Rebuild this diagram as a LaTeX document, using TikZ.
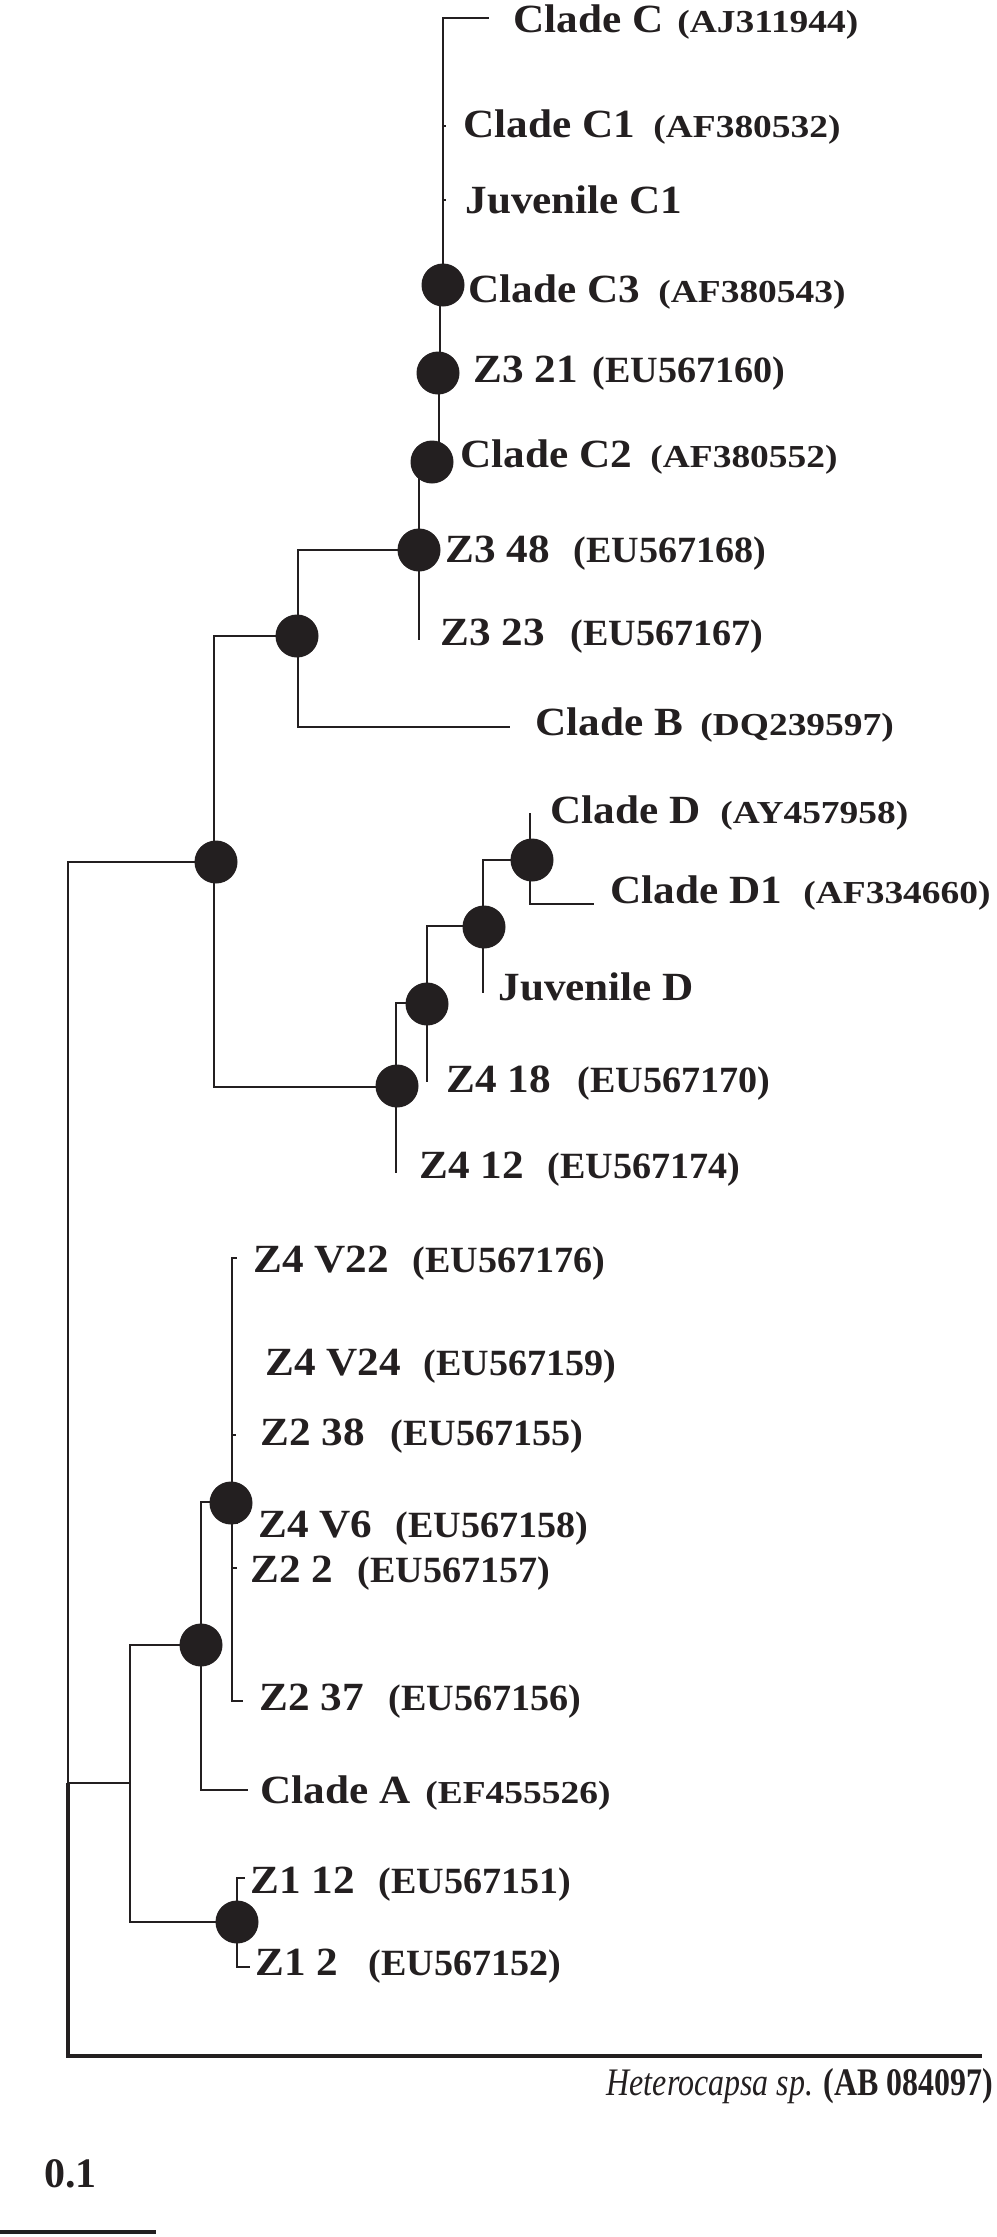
\documentclass[tikz,border=0pt]{standalone}
\usepackage{fontspec}
\setmainfont{Liberation Serif}
\newfontfamily\labfont{Liberation Serif}[FakeStretch=1.08]
\newfontfamily\eufont{Liberation Serif}[FakeStretch=1.03]
\newfontfamily\affont{Liberation Serif}[FakeStretch=1.17]
\newfontfamily\hetfont{Liberation Serif}[FakeStretch=0.82]
\definecolor{ink}{HTML}{231F20}
\begin{document}
\begin{tikzpicture}[x=0.5pt,y=-0.5pt,
  br/.style={draw=ink,line width=1.4pt},
  dot/.style={circle,fill=ink,minimum size=21.5pt,inner sep=0pt},
  lab/.style={anchor=base west,inner sep=0pt,text=ink,font=\labfont\bfseries\fontsize{20}{24}\selectfont},
  eu/.style={anchor=base west,inner sep=0pt,text=ink,font=\eufont\bfseries\fontsize{18.5}{22}\selectfont},
  af/.style={anchor=base west,inner sep=0pt,text=ink,font=\affont\bfseries\fontsize{16}{20}\selectfont}]
\useasboundingbox (0,0) rectangle (996,2237);
% junctions and tips
\coordinate (jR) at (68,1783);
\coordinate (jN1) at (214,862);
\coordinate (jBC) at (298,636);
\coordinate (jZ348) at (419,550);
\coordinate (jC2) at (439,462);
\coordinate (jZ321) at (440,373);
\coordinate (jC3) at (443,285);
\coordinate (tC) at (489,18);
\coordinate (tC1) at (446,126);
\coordinate (tJC1) at (446,200);
\coordinate (tZ323) at (419,640);
\coordinate (tB) at (510,727);
\coordinate (jD4) at (396,1087);
\coordinate (jD3) at (427,1003);
\coordinate (jD2) at (483,926);
\coordinate (jD1) at (530,860);
\coordinate (tD) at (530,813);
\coordinate (tD1) at (594,904);
\coordinate (tJD) at (483,993);
\coordinate (tZ418) at (427,1082);
\coordinate (tZ412) at (396,1173);
\coordinate (jA) at (130,1783);
\coordinate (jA2) at (201,1645);
\coordinate (jA3) at (232,1502);
\coordinate (tV22) at (237,1258);
\coordinate (tZ238) at (236,1435);
\coordinate (tV6) at (238,1523);
\coordinate (tZ22) at (237,1568);
\coordinate (tZ237) at (243,1701);
\coordinate (tA) at (248,1790);
\coordinate (jZ1) at (237,1922);
\coordinate (tZ112) at (245,1878);
\coordinate (tZ12) at (250,1967);
\coordinate (tH) at (982,2056);
\coordinate (s0) at (0,2232);
\coordinate (s1) at (156,2232);
% branches
\draw[br] (jR) |- (jN1);
\draw[br] (jR) |- (jA);
\draw[br,line width=1.7pt] (jR) |- (tH);
\draw[br] (jN1) |- (jBC);
\draw[br] (jN1) |- (jD4);
\draw[br] (jBC) |- (jZ348);
\draw[br] (jBC) |- (tB);
\draw[br] (jZ348) |- (jC2);
\draw[br] (jZ348) |- (tZ323);
\draw[br] (jC2) |- (jZ321);
\draw[br] (jZ321) |- (jC3);
\draw[br] (jC3) |- (tC);
\draw[br] (jC3) |- (tC1);
\draw[br] (jC3) |- (tJC1);
\draw[br] (jD4) |- (jD3);
\draw[br] (jD4) |- (tZ412);
\draw[br] (jD3) |- (jD2);
\draw[br] (jD3) |- (tZ418);
\draw[br] (jD2) |- (jD1);
\draw[br] (jD2) |- (tJD);
\draw[br] (jD1) |- (tD);
\draw[br] (jD1) |- (tD1);
\draw[br] (jA) |- (jA2);
\draw[br] (jA) |- (jZ1);
\draw[br] (jA2) |- (jA3);
\draw[br] (jA2) |- (tA);
\draw[br] (jA3) |- (tV22);
\draw[br] (jA3) |- (tZ238);
\draw[br] (jA3) |- (tV6);
\draw[br] (jA3) |- (tZ22);
\draw[br] (jA3) |- (tZ237);
\draw[br] (jZ1) |- (tZ112);
\draw[br] (jZ1) |- (tZ12);
\draw[br,line width=1.7pt] (s0) -- (s1);
% bootstrap dots
\node[dot] (dC3) at (443,285) {};
\node[dot] (dZ321) at (438,373) {};
\node[dot] (dC2) at (432,462) {};
\node[dot] (dZ348) at (419,550) {};
\node[dot] (dBC) at (297,636) {};
\node[dot] (dN1) at (216,862) {};
\node[dot] (dD4) at (397,1086) {};
\node[dot] (dD3) at (427,1004) {};
\node[dot] (dD2) at (484,927) {};
\node[dot] (dD1) at (532,860) {};
\node[dot] (dA3) at (231,1503) {};
\node[dot] (dA2) at (201,1645) {};
\node[dot] (dZ1) at (237,1922) {};
% labels
\node[lab] (lC) at (513,33) {Clade C};
\node[af] (aC) at (677,33) {(AJ311944)};
\node[lab] (lC1) at (463,138) {Clade C1};
\node[af] (aC1) at (653,138) {(AF380532)};
\node[lab] (lJC1) at (465,213) {Juvenile C1};
\node[lab] (lC3) at (468,302) {Clade C3};
\node[af] (aC3) at (658,302) {(AF380543)};
\node[lab] (lZ321) at (473,382) {Z3 21};
\node[eu] (aZ321) at (592,382) {(EU567160)};
\node[lab] (lC2) at (460,467) {Clade C2};
\node[af] (aC2) at (650,467) {(AF380552)};
\node[lab] (lZ348) at (445,562) {Z3 48};
\node[eu] (aZ348) at (573,562) {(EU567168)};
\node[lab] (lZ323) at (440,645) {Z3 23};
\node[eu] (aZ323) at (570,645) {(EU567167)};
\node[lab] (lB) at (535,735) {Clade B};
\node[af] (aB) at (700,735) {(DQ239597)};
\node[lab] (lD) at (550,823) {Clade D};
\node[af] (aD) at (720,823) {(AY457958)};
\node[lab] (lD1) at (610,903) {Clade D1};
\node[af] (aD1) at (803,903) {(AF334660)};
\node[lab] (lJD) at (498,1000) {Juvenile D};
\node[lab] (lZ418) at (446,1092) {Z4 18};
\node[eu] (aZ418) at (577,1092) {(EU567170)};
\node[lab] (lZ412) at (419,1178) {Z4 12};
\node[eu] (aZ412) at (547,1178) {(EU567174)};
\node[lab] (lV22) at (253,1272) {Z4 V22};
\node[eu] (aV22) at (412,1272) {(EU567176)};
\node[lab] (lV24) at (265,1375) {Z4 V24};
\node[eu] (aV24) at (423,1375) {(EU567159)};
\node[lab] (lZ238) at (260,1445) {Z2 38};
\node[eu] (aZ238) at (390,1445) {(EU567155)};
\node[lab] (lV6) at (258,1537) {Z4 V6};
\node[eu] (aV6) at (395,1537) {(EU567158)};
\node[lab] (lZ22) at (250,1582) {Z2 2};
\node[eu] (aZ22) at (357,1582) {(EU567157)};
\node[lab] (lZ237) at (259,1710) {Z2 37};
\node[eu] (aZ237) at (388,1710) {(EU567156)};
\node[lab] (lA) at (260,1803) {Clade A};
\node[af] (aA) at (425,1803) {(EF455526)};
\node[lab] (lZ112) at (250,1893) {Z1 12};
\node[eu] (aZ112) at (378,1893) {(EU567151)};
\node[lab] (lZ12) at (255,1975) {Z1 2};
\node[eu] (aZ12) at (368,1975) {(EU567152)};
\node[anchor=base east,inner sep=0pt,text=ink,font=\hetfont\fontsize{19.5}{23}\selectfont] (lH) at (994,2095) {\textit{Heterocapsa sp.} \textbf{(AB 084097)}};
\node[anchor=base west,inner sep=0pt,text=ink,font=\bfseries\fontsize{21}{24}\selectfont] (lS) at (44,2187) {0.1};
\end{tikzpicture}
\end{document}
